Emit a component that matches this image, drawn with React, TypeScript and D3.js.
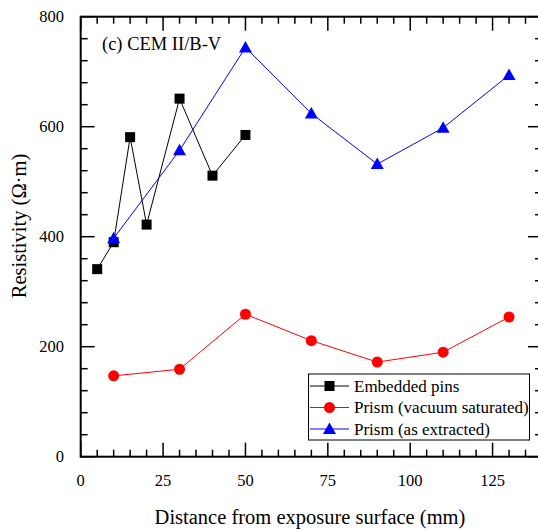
import React, { useEffect, useRef } from "react";
import * as d3 from "d3";

// Distance from exposure surface (mm) and resistivity (Ω·m)
const pinsX = [5, 10, 15, 20, 30, 40, 50];
const pinsY = [341, 390, 581, 422, 651, 511, 585];
const satX = [10, 30, 50, 70, 90, 110, 130];
const satY = [147, 159, 259, 211, 172, 190, 254];
const extX = [10, 30, 50, 70, 90, 110, 130];
const extY = [397, 557, 744, 624, 532, 598, 694];

const xTicks = [0, 25, 50, 75, 100, 125];
const yTicks = [0, 200, 400, 600, 800];

const seriesNames = ["Embedded pins", "Prism (vacuum saturated)", "Prism (as extracted)"];
const seriesColors = ["#000000", "#ff0000", "#0000ff"];
const seriesShapes = ["square", "circle", "triangle"];

const W = 538;
const H = 530;
const FONT = "Liberation Serif";

export default function App() {
  const ref = useRef<SVGSVGElement>(null);

  useEffect(() => {
    const svg = d3.select(ref.current);
    svg.selectAll("*").remove();

    const left = 80.7, right = 542, top = 16.7, bottom = 456.7;
    const x = d3.scaleLinear().domain([0, 140]).range([left, right]);
    const y = d3.scaleLinear().domain([0, 800]).range([bottom, top]);

    const g = svg.append("g").style("font-family", FONT);

    // frame
    g.append("rect")
      .attr("x", left).attr("y", top)
      .attr("width", right - left).attr("height", bottom - top)
      .attr("fill", "none").attr("stroke", "#000").attr("stroke-width", 2);

    // ticks, pointing inward on all four sides
    const tk = g.append("g").attr("stroke", "#000").attr("stroke-width", 1.5);
    d3.range(0, 141, 5).forEach((v) => {
      const len = v % 25 === 0 ? 14 : 7;
      tk.append("line").attr("x1", x(v)).attr("x2", x(v)).attr("y1", bottom).attr("y2", bottom - len);
      tk.append("line").attr("x1", x(v)).attr("x2", x(v)).attr("y1", top).attr("y2", top + len);
    });
    d3.range(0, 801, 40).forEach((v) => {
      const len = v % 200 === 0 ? 14 : 7;
      tk.append("line").attr("y1", y(v)).attr("y2", y(v)).attr("x1", left).attr("x2", left + len);
      tk.append("line").attr("y1", y(v)).attr("y2", y(v)).attr("x1", right).attr("x2", right - len);
    });

    // tick labels
    xTicks.forEach((v) => {
      g.append("text").attr("x", x(v)).attr("y", 486)
        .attr("text-anchor", "middle").attr("font-size", 16.5)
        .text(String(v));
    });
    yTicks.forEach((v) => {
      g.append("text").attr("x", 64).attr("y", y(v) + 5.5)
        .attr("text-anchor", "end").attr("font-size", 16.5)
        .text(String(v));
    });

    // axis titles
    g.append("text").attr("x", 310).attr("y", 524)
      .attr("text-anchor", "middle").attr("font-size", 20.5)
      .text("Distance from exposure surface (mm)");
    g.append("text")
      .attr("transform", `translate(26, ${226}) rotate(-90)`)
      .attr("text-anchor", "middle").attr("font-size", 20.5)
      .text("Resistivity (Ω·m)");

    // panel label
    g.append("text").attr("x", 102).attr("y", 50)
      .attr("font-size", 18.5)
      .text("(c) CEM II/B-V");

    const drawMarker = (sel: any, shape: string, cx: number, cy: number, color: string) => {
      if (shape === "square") {
        sel.append("rect").attr("x", cx - 5).attr("y", cy - 5).attr("width", 10).attr("height", 10).attr("fill", color);
      } else if (shape === "circle") {
        sel.append("circle").attr("cx", cx).attr("cy", cy).attr("r", 5.5).attr("fill", color);
      } else {
        const s = 6.5;
        sel.append("path")
          .attr("d", `M${cx},${cy - s} L${cx + s},${cy + s * 0.75} L${cx - s},${cy + s * 0.75} Z`)
          .attr("fill", color);
      }
    };

    const series = [
      [pinsX, pinsY],
      [satX, satY],
      [extX, extY],
    ];
    const line = d3.line<[number, number]>().x((d) => x(d[0])).y((d) => y(d[1]));
    series.forEach(([xs, ys], i) => {
      const pts = xs.map((v, j) => [v, ys[j]] as [number, number]);
      g.append("path").attr("d", line(pts)).attr("fill", "none")
        .attr("stroke", seriesColors[i]).attr("stroke-width", 1);
      pts.forEach((p) => drawMarker(g, seriesShapes[i], x(p[0]), y(p[1]), seriesColors[i]));
    });

    // legend
    const lg = g.append("g");
    lg.append("rect").attr("x", 308.5).attr("y", 374).attr("width", 221).attr("height", 66)
      .attr("fill", "#fff").attr("stroke", "#000").attr("stroke-width", 1);
    seriesNames.forEach((name, i) => {
      const cy = 386 + i * 21.5;
      lg.append("line").attr("x1", 310).attr("x2", 349).attr("y1", cy).attr("y2", cy)
        .attr("stroke", seriesColors[i]).attr("stroke-width", 1);
      drawMarker(lg, seriesShapes[i], 329.5, cy, seriesColors[i]);
      lg.append("text").attr("x", 354).attr("y", cy + 5.5)
        .attr("font-size", 17).text(name);
    });
  }, []);

  return (
    <svg
      ref={ref}
      width={W}
      height={H}
      style={{ position: "absolute", left: 0, top: 0, background: "#fff" }}
    />
  );
}
